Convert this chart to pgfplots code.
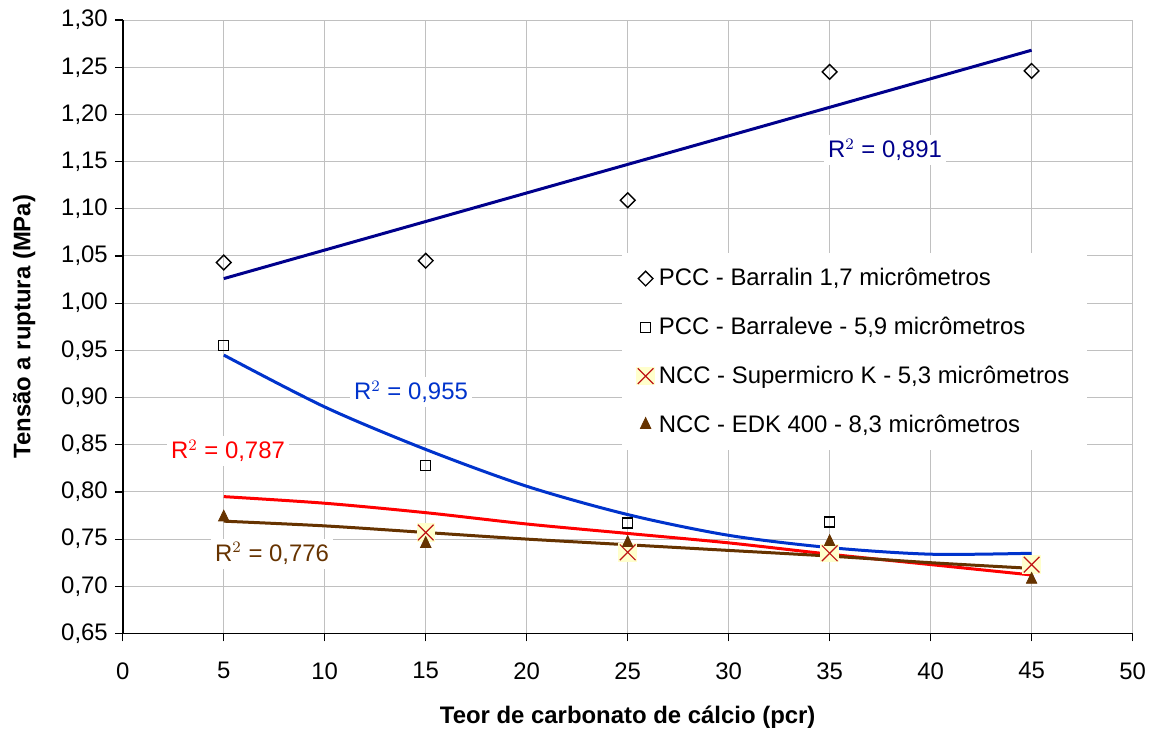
\documentclass[border=0pt]{standalone}
\usepackage{pgfplots}
\pgfplotsset{compat=1.18}
\usepackage{fontspec}
\setmainfont{Liberation Sans}

\definecolor{navytrend}{RGB}{0,0,140}
\definecolor{bluetrend}{RGB}{0,51,204}
\definecolor{redtrend}{RGB}{255,0,0}
\definecolor{browntrend}{RGB}{102,51,0}
\definecolor{xred}{RGB}{190,20,20}
\definecolor{xbg}{RGB}{255,255,204}
\definecolor{gridgray}{RGB}{192,192,192}

% cross on a pale yellow square, as in the spreadsheet
\pgfdeclareplotmark{xbox}{%
  \pgfpathrectangle{\pgfqpoint{-\pgfplotmarksize}{-\pgfplotmarksize}}{\pgfqpoint{2\pgfplotmarksize}{2\pgfplotmarksize}}%
  \pgfsetfillcolor{xbg}%
  \pgfusepathqfill
  \pgfpathmoveto{\pgfqpoint{-.85\pgfplotmarksize}{-.85\pgfplotmarksize}}%
  \pgfpathlineto{\pgfqpoint{.85\pgfplotmarksize}{.85\pgfplotmarksize}}%
  \pgfpathmoveto{\pgfqpoint{-.85\pgfplotmarksize}{.85\pgfplotmarksize}}%
  \pgfpathlineto{\pgfqpoint{.85\pgfplotmarksize}{-.85\pgfplotmarksize}}%
  \pgfusepathqstroke
}

\begin{document}
\begin{tikzpicture}
  \begin{axis}[
    name=ax,
    scale only axis,
    width=505bp, height=306.8bp,
    xmin=0, xmax=50, ymin=0.65, ymax=1.30,
    xtick={0,5,...,50},
    ytick={0.65,0.70,0.75,0.80,0.85,0.90,0.95,1.00,1.05,1.10,1.15,1.20,1.25,1.30},
    axis x line*=bottom, axis y line*=left,
    axis line style={black, line width=0.75bp},
    tick align=outside,
    major tick length=4bp,
    tick style={black, line width=0.6bp},
    grid=major,
    major grid style={gridgray, line width=0.5bp},
    y tick label style={/pgf/number format/.cd, use comma, fixed, fixed zerofill, precision=2},
    x tick label style={yshift=-7bp},
    /pgf/number format/assume math mode=true,
    tick label style={font=\fontsize{12}{14}\selectfont},
    xlabel={Teor de carbonato de cálcio (pcr)},
    ylabel={Tensão a ruptura (MPa)},
    every axis x label/.style={at={(axis description cs:0.5,-0.1357)}, anchor=center,
      font=\fontsize{12}{14}\selectfont\bfseries},
    every axis y label/.style={at={(axis description cs:-0.0977,0.5)}, rotate=90, anchor=center,
      font=\fontsize{12}{14}\selectfont\bfseries},
    legend style={at={(rel axis cs:0.4944,0.6203)}, anchor=north west,
      draw=none, fill=white, font=\fontsize{12}{14}\selectfont,
      row sep=10.2bp, inner xsep=7bp, inner ysep=5.5bp,
      /tikz/every odd column/.append style={column sep=0bp}},
    legend cell align=left,
    legend image code/.code={\draw[#1] plot coordinates {(0bp,0bp)};},
    clip=false,
  ]

    % measured points
    \addplot[only marks, mark=square, mark size=2.6bp, mark options={rotate=45, fill=white, draw=black, line width=0.7bp}]
      coordinates {(5,1.043) (15,1.045) (25,1.109) (35,1.245) (45,1.246)};
    \addlegendentry{PCC - Barralin 1,7 micrômetros}

    \addplot[only marks, mark=square, mark size=2.5bp, mark options={fill=white, draw=black, line width=0.7bp}]
      coordinates {(5,0.955) (15,0.828) (25,0.767) (35,0.768)};
    \addlegendentry{PCC - Barraleve - 5,9 micrômetros}

    \addplot[only marks, mark=xbox, mark size=4.6bp, mark options={draw=xred, line width=0.6bp}]
      coordinates {(15,0.757) (25,0.736) (35,0.735) (45,0.723)};
    \addlegendentry{NCC - Supermicro K - 5,3 micrômetros}

    \addplot[only marks, mark=triangle*, mark size=3bp, mark options={yscale=1.2, fill=browntrend, draw=browntrend}]
      coordinates {(5,0.773) (15,0.745) (25,0.746) (35,0.747) (45,0.707)};
    \addlegendentry{NCC - EDK 400 - 8,3 micrômetros}

    % trend lines
    \addplot[navytrend, line width=1.5bp, forget plot]
      coordinates {(5,1.026) (45,1.268)};
    \addplot[bluetrend, line width=1.5bp, smooth, tension=0.5, forget plot]
      coordinates {(5,0.945) (10,0.890) (15,0.845) (20,0.806) (25,0.776) (30,0.754) (35,0.741) (40,0.734) (45,0.735)};
    \addplot[redtrend, line width=1.5bp, smooth, tension=0.5, forget plot]
      coordinates {(5,0.795) (10,0.788) (15,0.778) (20,0.766) (25,0.756) (30,0.746) (35,0.734) (40,0.723) (45,0.712)};
    \addplot[browntrend, line width=1.5bp, smooth, tension=0.5, forget plot]
      coordinates {(5,0.769) (10,0.764) (15,0.757) (20,0.750) (25,0.744) (30,0.738) (35,0.732) (40,0.725) (45,0.719)};

    % R^2 labels
    \node[fill=white, inner sep=2bp, text=navytrend, font=\fontsize{12}{14}\selectfont] at (axis cs:37.74,1.1623) {R$^2$ = 0,891};
    \node[fill=white, inner sep=2bp, text=bluetrend, font=\fontsize{12}{14}\selectfont] at (axis cs:14.27,0.906) {R$^2$ = 0,955};
    \node[fill=white, inner sep=2bp, text=redtrend, font=\fontsize{12}{14}\selectfont] at (axis cs:5.21,0.8435) {R$^2$ = 0,787};
    \node[fill=white, inner sep=2bp, text=browntrend, font=\fontsize{12}{14}\selectfont] at (axis cs:7.39,0.7347) {R$^2$ = 0,776};
  \end{axis}
  % page margins as in the reference
  \path ([shift={(-61.4bp,-49.6bp)}]ax.south west) rectangle ([shift={(12.2bp,10bp)}]ax.north east);
\end{tikzpicture}
\end{document}
